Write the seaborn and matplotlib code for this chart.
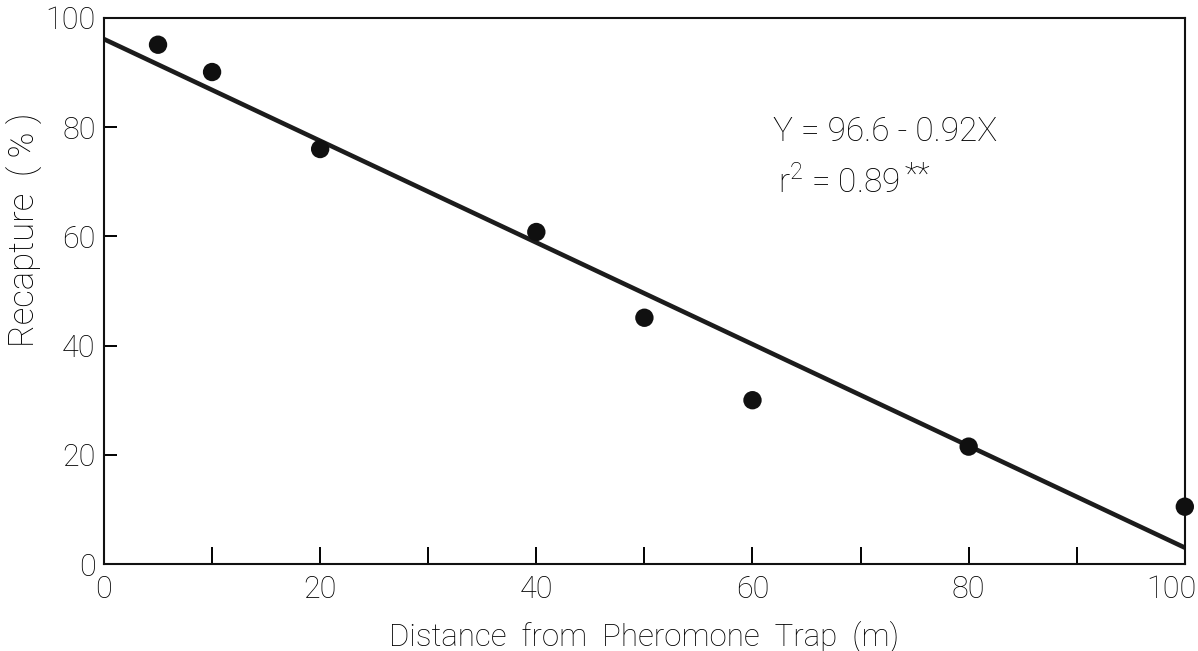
import matplotlib
matplotlib.use("Agg")
import matplotlib.pyplot as plt
from matplotlib.transforms import ScaledTranslation
import numpy as np
import pandas as pd
import seaborn as sns

# 数据
distance = [5, 10, 20, 40, 50, 60, 80, 100]
recapture = [95.1, 90.1, 76.0, 60.8, 45.1, 30.0, 21.5, 10.5]
x_major = [0, 20, 40, 60, 80, 100]
x_minor = [10, 30, 50, 70, 90]
y_major = [0, 20, 40, 60, 80, 100]
eq_text = "Y = 96.6 - 0.92X"
r2_text = r"r$^2$ = 0.89"
star_text = "**"

df = pd.DataFrame({"distance": distance, "recapture": recapture})

sns.set_style("ticks")
plt.rcParams['font.family'] = ['Roboto', 'DejaVu Sans']
plt.rcParams['font.weight'] = 'light'
plt.rcParams['axes.labelweight'] = 'light'
plt.rcParams['mathtext.fontset'] = 'custom'
plt.rcParams['mathtext.rm'] = 'Roboto:light'
for k in ['text.color', 'axes.labelcolor', 'xtick.color', 'ytick.color', 'axes.edgecolor']:
    plt.rcParams[k] = 'black'

fig = plt.figure(figsize=(11.98, 6.51), dpi=100)
ax = fig.add_axes([0.0868, 0.1336, 0.9022, 0.8388])
ax.set_xlim(0, 100)
ax.set_ylim(0, 100)

sns.regplot(x="distance", y="recapture", data=df, ax=ax, ci=None, truncate=False,
            scatter_kws={"s": 175, "color": "#101010", "alpha": 1, "edgecolor": "none",
                         "clip_on": False, "zorder": 3},
            line_kws={"color": "#1c1c1c", "lw": 3.3, "zorder": 2})
ax.set_xlim(0, 100)
ax.set_ylim(0, 100)

ax.set_xticks(x_major)
ax.set_xticks(x_minor, minor=True)
ax.set_yticks(y_major)
ax.tick_params(axis="x", which="both", direction="in", length=12, width=1.4, pad=8, labelsize=22)
ax.tick_params(axis="y", which="both", direction="in", length=9.5, width=1.4, pad=6, labelsize=22)
for s in ax.spines.values():
    s.set_visible(True)
    s.set_linewidth(1.5)
    s.set_color("#111111")

# 最右边的 100 往左挪一点，免得被裁掉
lab = ax.get_xticklabels()[-1]
lab.set_transform(lab.get_transform() + ScaledTranslation(-10 / 72, 0, fig.dpi_scale_trans))

ax.set_xlabel("Distance  from  Pheromone  Trap  (m)", fontsize=22.5, labelpad=12)
ax.set_ylabel("Recapture  ( % )", fontsize=25)
ax.yaxis.set_label_coords(-0.056, 0.612)

ax.text(61.9, 77.4, eq_text, fontsize=24, ha="left", va="baseline")
ax.text(62.4, 67.9, r2_text, fontsize=24, ha="left", va="baseline")
ax.text(74.1, 73.8, star_text, fontsize=22, ha="left", va="top")

fig.savefig("out.png", dpi=100)
